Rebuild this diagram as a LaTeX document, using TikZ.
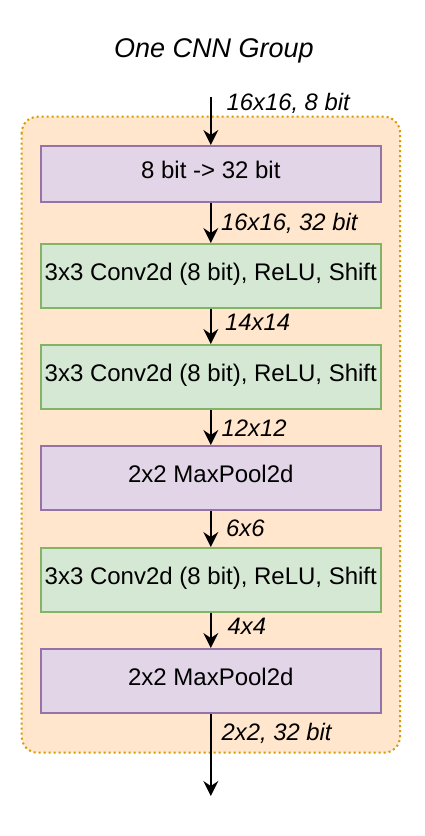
\documentclass[tikz,border=0pt]{standalone}
\usepackage{fontspec}
\setmainfont{Liberation Sans}
\usetikzlibrary{arrows.meta}
\definecolor{grpfill}{HTML}{FFE6CC}
\definecolor{grpline}{HTML}{D79B00}
\definecolor{purfill}{HTML}{E1D5E7}
\definecolor{purline}{HTML}{9673A6}
\definecolor{grnfill}{HTML}{D5E8D4}
\definecolor{grnline}{HTML}{82B366}
\tikzset{
  box/.style={draw, line width=2pt, minimum width=340pt, inner sep=0pt,
    text height=0.8em, text depth=0pt,
    font=\fontsize{24}{28}\selectfont},
  purbox/.style={box, fill=purfill, draw=purline},
  grnbox/.style={box, fill=grnfill, draw=grnline},
  arr/.style={line width=1.8pt, -{Stealth[length=15pt,width=15pt,inset=5pt]}},
  lbl/.style={anchor=base west, inner sep=0pt, font=\fontsize{23.8}{28}\selectfont\itshape},
}
\begin{document}
\begin{tikzpicture}[x=1pt,y=-1pt]
\useasboundingbox (0,0) rectangle (424,836);
\node[anchor=base, inner sep=0pt, font=\fontsize{27}{32}\selectfont\itshape] (title) at (214,57.3) {One CNN Group};
\draw[fill=grpfill, draw=grpline, line width=2pt, dash pattern=on 2pt off 3pt, rounded corners=16pt] (21.7,116.7) rectangle (400,752.7);
\node[purbox, minimum height=56pt] (b1) at (210.8,174) {8 bit -> 32 bit};
\node[grnbox, minimum height=64pt] (b2) at (210.8,276) {3x3 Conv2d (8 bit), ReLU, Shift};
\node[grnbox, minimum height=64pt] (b3) at (210.8,377) {3x3 Conv2d (8 bit), ReLU, Shift};
\node[purbox, minimum height=64pt] (b4) at (210.8,478) {2x2 MaxPool2d};
\node[grnbox, minimum height=64pt] (b5) at (210.8,580) {3x3 Conv2d (8 bit), ReLU, Shift};
\node[purbox, minimum height=64pt] (b6) at (210.8,681) {2x2 MaxPool2d};
\coordinate (in) at (210.8,97);
\coordinate (out) at (210.8,796);
\draw[arr] (in) -- (b1.north);
\draw[arr] (b1.south) -- (b2.north);
\draw[arr] (b2.south) -- (b3.north);
\draw[arr] (b3.south) -- (b4.north);
\draw[arr] (b4.south) -- (b5.north);
\draw[arr] (b5.south) -- (b6.north);
\draw[arr] (b6.south) -- (out);
\node[lbl] (l0) at (226.5,110) {16x16, 8 bit};
\node[lbl] (l1) at (221,230.7) {16x16, 32 bit};
\node[lbl] (l2) at (225,330.7) {14x14};
\node[lbl] (l3) at (221.5,436) {12x12};
\node[lbl] (l4) at (226,536.7) {6x6};
\node[lbl] (l5) at (227.5,634.3) {4x4};
\node[lbl] (l6) at (221.5,740) {2x2, 32 bit};
\end{tikzpicture}
\end{document}
